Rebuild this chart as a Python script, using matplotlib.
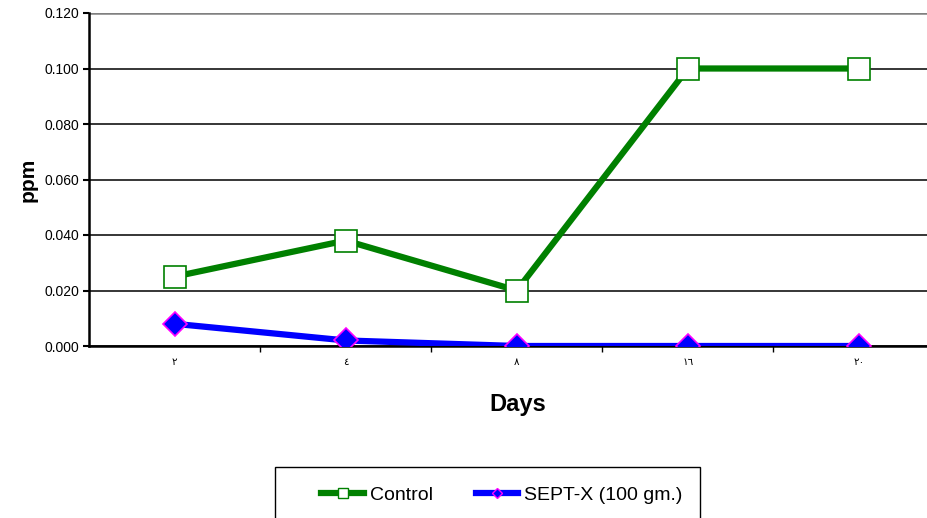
import matplotlib
matplotlib.use("Agg")
import matplotlib.pyplot as plt
from matplotlib.patches import Rectangle
from matplotlib.lines import Line2D

days = ["٢", "٤", "٨", "١٦", "٢٠"]
control = [0.025, 0.038, 0.020, 0.100, 0.100]
septx = [0.008, 0.002, 0.000, 0.000, 0.000]
yticks = [0.000, 0.020, 0.040, 0.060, 0.080, 0.100, 0.120]

plt.rcParams["font.family"] = ["Liberation Sans", "DejaVu Sans"]

fig = plt.figure(figsize=(9.28, 5.18), dpi=100)
ax = fig.add_axes([89 / 928, 172 / 518, 855.5 / 928, 333 / 518])

x = list(range(len(days)))
ax.plot(x, control, color="#008000", lw=4.5, marker="s", ms=16,
        mfc="white", mec="#008000", mew=1.2, zorder=3, label="Control")
ax.plot(x, septx, color="#0000FF", lw=4.5, marker="D", ms=12,
        mfc="#0000FF", mec="#FF00FF", mew=1.2, zorder=4,
        label="SEPT-X (100 gm.)")

ax.set_xlim(-0.5, len(days) - 0.5)
ax.set_ylim(0, 0.120)
ax.set_yticks(yticks)
ax.set_yticklabels([f"{v:.3f}" for v in yticks], fontsize=10)
ax.set_xticks(x)
ax.set_xticklabels(days, fontsize=7.5, family=["DejaVu Sans"])
ax.tick_params(axis="x", length=0, pad=8)
ax.tick_params(axis="y", direction="out", length=4, width=1.5, pad=3)

# category boundary ticks
ax.set_xticks([i + 0.5 for i in range(len(days) - 1)], minor=True)
ax.tick_params(axis="x", which="minor", direction="out", length=4, width=1)

ax.yaxis.grid(True, color="black", lw=1.1)
ax.set_axisbelow(True)
for s in ["top", "right"]:
    ax.spines[s].set_visible(False)
ax.spines["left"].set_linewidth(1.8)
ax.spines["bottom"].set_linewidth(1.8)
ax.axhline(0.120, color="#808080", lw=1.8, zorder=2)

fig.text(28 / 928, 1 - 180 / 518, "ppm", rotation=90, fontsize=15,
         fontweight="bold", ha="center", va="center")
fig.text(518 / 928, 1 - 405 / 518, "Days", fontsize=17,
         fontweight="bold", ha="center", va="center")

# legend frame
fig.patches.append(Rectangle((275 / 928, -0.1), 425 / 928, (518 - 467) / 518 + 0.1,
                             transform=fig.transFigure, fill=False,
                             edgecolor="black", lw=1.0))
handles = [
    Line2D([], [], color="#008000", lw=4.5, marker="s", ms=7, mfc="white",
           mec="#008000", mew=1.0),
    Line2D([], [], color="#0000FF", lw=4.5, marker="D", ms=5, mfc="#0000FF",
           mec="#FF00FF", mew=1.0),
]
fig.legend(handles, ["Control", "SEPT-X (100 gm.)"], loc="center",
           bbox_to_anchor=(502 / 928, 1 - 495 / 518), ncol=2, frameon=False,
           fontsize=14, handlelength=2.2, handletextpad=0.3, columnspacing=2.2)

fig.savefig("out.png", dpi=100)
